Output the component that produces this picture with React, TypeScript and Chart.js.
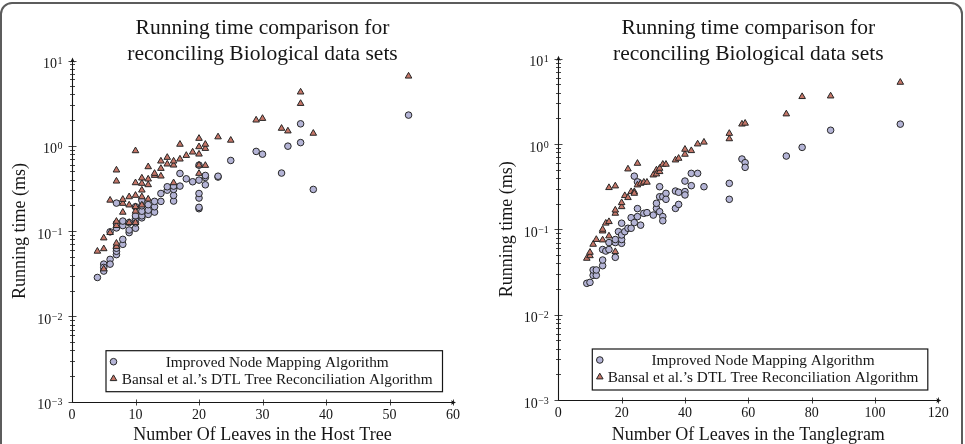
import React, { useEffect, useRef } from "react";
import { Chart, registerables } from "chart.js";

Chart.register(...registerables);

const SERIF = "'Liberation Serif', 'Times New Roman', 'DejaVu Serif', serif";
const INK = "#161616";
const CIRCLE_FILL = "rgb(180, 180, 214)";
const TRIANGLE_FILL = "rgb(198, 118, 104)";

const titleLines = ["Running time comparison for", "reconciling Biological data sets"];
const yAxisTitle = "Running time (ms)";
const legendLabels = [
  "Improved Node Mapping Algorithm",
  "Bansal et al.\u2019s DTL Tree Reconciliation Algorithm",
];
const yExponents = [-3, -2, -1, 0, 1];

// Host tree panel
const hostTitle = "Number Of Leaves in the Host Tree";
const hostTicks = [0, 10, 20, 30, 40, 50, 60];
const hostImprovedX = [4, 5, 5, 5, 6, 6, 6, 7, 7, 7, 7, 7, 7, 8, 8, 8, 8, 9, 9, 9, 10, 10, 10, 10, 10, 11, 11, 11, 11, 11, 12, 12, 12, 13, 13, 13, 14, 14, 15, 15, 16, 16, 16, 16, 17, 17, 18, 19, 20, 20, 20, 20, 20, 20, 21, 21, 21, 23, 23, 25, 29, 30, 33, 34, 36, 36, 38, 53];
const hostImprovedY = [0.0286, 0.041, 0.0375, 0.034, 0.0466, 0.041, 0.098, 0.053, 0.058, 0.063, 0.109, 0.123, 0.213, 0.07, 0.08, 0.116, 0.131, 0.096, 0.103, 0.126, 0.108, 0.125, 0.141, 0.151, 0.193, 0.143, 0.151, 0.171, 0.198, 0.23, 0.157, 0.176, 0.204, 0.167, 0.193, 0.223, 0.223, 0.276, 0.302, 0.331, 0.225, 0.262, 0.308, 0.337, 0.337, 0.474, 0.41, 0.379, 0.183, 0.19, 0.244, 0.276, 0.396, 0.593, 0.349, 0.426, 0.449, 0.43, 0.44, 0.673, 0.859, 0.798, 0.479, 0.99, 1.09, 1.81, 0.308, 2.29];
const hostBansalX = [4, 5, 5, 5, 6, 6, 7, 7, 7, 7, 7, 7, 8, 8, 8, 9, 9, 9, 10, 10, 10, 10, 10, 10, 11, 11, 11, 11, 11, 12, 12, 12, 12, 13, 13, 14, 14, 14, 15, 15, 16, 16, 16, 17, 17, 18, 19, 20, 20, 20, 20, 20, 21, 21, 21, 23, 25, 29, 30, 33, 34, 36, 36, 38, 53];
const hostBansalY = [0.058, 0.036, 0.062, 0.083, 0.096, 0.23, 0.066, 0.072, 0.116, 0.13, 0.385, 0.519, 0.166, 0.211, 0.235, 0.126, 0.202, 0.252, 0.126, 0.171, 0.193, 0.262, 0.368, 0.873, 0.202, 0.252, 0.302, 0.362, 0.418, 0.237, 0.349, 0.407, 0.567, 0.449, 0.474, 0.441, 0.542, 0.661, 0.61, 0.73, 0.368, 0.593, 0.661, 0.698, 1.04, 0.77, 0.843, 0.474, 0.593, 0.798, 0.973, 1.22, 0.588, 0.93, 1.04, 1.27, 1.16, 2.0, 2.09, 1.6, 1.49, 3.13, 4.26, 1.4, 6.55];

// Tanglegram panel
const tangleTitle = "Number Of Leaves in the Tanglegram";
const tangleTicks = [0, 20, 40, 60, 80, 100, 120];
const tangleImprovedX = [9, 10, 11, 11, 12, 12, 14, 14, 14, 15, 16, 16, 18, 18, 18, 19, 20, 20, 20, 20, 21, 22, 23, 23, 24, 24, 25, 25, 25, 26, 27, 28, 30, 31, 31, 32, 32, 32, 33, 33, 33, 34, 34, 37, 37, 38, 38, 40, 40, 40, 42, 42, 44, 46, 54, 54, 58, 59, 59, 72, 77, 86, 108];
const tangleImprovedY = [0.0233, 0.0239, 0.0289, 0.0334, 0.0289, 0.0334, 0.0375, 0.0437, 0.058, 0.0557, 0.058, 0.07, 0.047, 0.07, 0.076, 0.094, 0.0686, 0.076, 0.086, 0.118, 0.094, 0.103, 0.103, 0.137, 0.12, 0.42, 0.141, 0.175, 0.36, 0.112, 0.154, 0.157, 0.147, 0.176, 0.202, 0.161, 0.241, 0.316, 0.241, 0.141, 0.126, 0.264, 0.225, 0.176, 0.281, 0.196, 0.272, 0.368, 0.277, 0.253, 0.325, 0.453, 0.453, 0.316, 0.346, 0.225, 0.667, 0.604, 0.533, 0.723, 0.914, 1.45, 1.71];
const tangleBansalX = [9, 10, 10, 11, 12, 14, 14, 14, 15, 16, 16, 16, 18, 18, 18, 18, 20, 20, 21, 22, 22, 23, 24, 24, 25, 25, 26, 27, 28, 30, 31, 31, 32, 32, 33, 34, 37, 38, 40, 40, 42, 44, 46, 54, 54, 58, 59, 72, 77, 86, 108];
const tangleBansalY = [0.0457, 0.049, 0.0537, 0.0667, 0.076, 0.075, 0.0955, 0.1, 0.118, 0.123, 0.0835, 0.308, 0.322, 0.0547, 0.154, 0.168, 0.184, 0.205, 0.248, 0.235, 0.509, 0.276, 0.276, 0.264, 0.593, 0.331, 0.346, 0.356, 0.356, 0.433, 0.496, 0.445, 0.474, 0.519, 0.578, 0.578, 0.649, 0.679, 0.757, 0.866, 0.835, 1.0, 1.05, 1.33, 1.15, 1.71, 1.75, 2.25, 3.59, 3.65, 5.28];

const toPoints = (xs: number[], ys: number[]) => xs.map((x, i) => ({ x, y: ys[i] }));

function markerPath(ctx: CanvasRenderingContext2D, style: string, x: number, y: number, r: number) {
  ctx.beginPath();
  if (style === "triangle") {
    for (let k = 0; k < 3; k++) {
      const ang = -Math.PI / 2 + (k * 2 * Math.PI) / 3;
      const px = x + r * Math.cos(ang);
      const py = y + r * Math.sin(ang);
      if (k === 0) ctx.moveTo(px, py);
      else ctx.lineTo(px, py);
    }
    ctx.closePath();
  } else {
    ctx.arc(x, y, r, 0, Math.PI * 2);
  }
}

const pgfAxesPlugin = {
  id: "pgfAxes",
  beforeDatasetsDraw(chart: any, _args: any, opts: any) {
    const { ctx, chartArea: a } = chart;
    const xs = chart.scales.x;
    const ys = chart.scales.y;
    const ax = Math.round(a.left) + 0.5;
    const ay = Math.round(a.bottom) + 0.5;
    const seg = (x1: number, y1: number, x2: number, y2: number) => {
      ctx.beginPath();
      ctx.moveTo(x1, y1);
      ctx.lineTo(x2, y2);
      ctx.stroke();
    };
    ctx.save();
    ctx.strokeStyle = INK;
    ctx.fillStyle = INK;

    // logarithmic ticks, major at each decade and minor in between
    ctx.lineWidth = 0.8;
    const eMin = yExponents[0];
    const eMax = yExponents[yExponents.length - 1];
    for (let e = eMin; e <= eMax; e++) {
      for (let m = 1; m <= 9; m++) {
        if (e === eMax && m > 1) break;
        const py = Math.round(ys.getPixelForValue(m * Math.pow(10, e))) + 0.5;
        const len = m === 1 ? 4 : 2.5;
        seg(ax - len, py, ax + len, py);
      }
    }
    for (const t of xs.ticks) {
      if (t.value === 0) continue;
      const px = Math.round(xs.getPixelForValue(t.value)) + 0.5;
      seg(px, ay - 3, px, ay + 3);
    }

    // axis lines with arrow tips
    ctx.lineWidth = 1.1;
    const topTip = a.top - 3;
    const rightTip = a.right + 3;
    seg(ax, ay, ax, topTip + 2);
    seg(ax, ay, rightTip - 2, ay);
    ctx.beginPath();
    ctx.moveTo(ax, topTip);
    ctx.lineTo(ax - 2.2, topTip + 5);
    ctx.lineTo(ax, topTip + 4);
    ctx.lineTo(ax + 2.2, topTip + 5);
    ctx.closePath();
    ctx.fill();
    ctx.beginPath();
    ctx.moveTo(rightTip, ay);
    ctx.lineTo(rightTip - 5, ay - 2.2);
    ctx.lineTo(rightTip - 4, ay);
    ctx.lineTo(rightTip - 5, ay + 2.2);
    ctx.closePath();
    ctx.fill();

    // decade labels with superscript exponents
    const labelRight = a.left - 9.5;
    ctx.textAlign = "left";
    ctx.textBaseline = "alphabetic";
    for (const e of yExponents) {
      const py = ys.getPixelForValue(Math.pow(10, e));
      const expText = e < 0 ? "\u2212" + Math.abs(e) : String(e);
      ctx.font = `10px ${SERIF}`;
      const expW = ctx.measureText(expText).width;
      ctx.font = `14px ${SERIF}`;
      const baseW = ctx.measureText("10").width;
      const bx = labelRight - expW - baseW - 0.5;
      ctx.fillText("10", bx, py + 7.5);
      ctx.font = `10px ${SERIF}`;
      ctx.fillText(expText, bx + baseW + 0.5, py + 3.5);
    }

    // titles
    const cx = (a.left + a.right) / 2;
    ctx.textAlign = "center";
    ctx.font = `21.5px ${SERIF}`;
    ctx.fillText(titleLines[0], cx, 33.5);
    ctx.fillText(titleLines[1], cx, 59.5);
    ctx.font = `18px ${SERIF}`;
    ctx.fillText(opts.xTitle, cx, chart.height - 4);
    ctx.save();
    ctx.translate(a.left - 51.5, (a.top + a.bottom) / 2);
    ctx.rotate(-Math.PI / 2);
    ctx.textBaseline = "middle";
    ctx.fillText(yAxisTitle, 0, 0);
    ctx.restore();
    ctx.restore();
  },
  afterDatasetsDraw(chart: any) {
    const { ctx, chartArea: a } = chart;
    const left = a.left + 34;
    const right = a.right - 10.5;
    const top = a.bottom - 51;
    const bottom = a.bottom - 10;
    ctx.save();
    ctx.fillStyle = "#ffffff";
    ctx.fillRect(left, top, right - left, bottom - top);
    ctx.strokeStyle = INK;
    ctx.lineWidth = 1.2;
    ctx.strokeRect(left, top, right - left, bottom - top);
    const textX = (left + right) / 2 + 3;
    chart.data.datasets.forEach((ds: any, i: number) => {
      const rowY = top + 11 + i * 17;
      markerPath(ctx, ds.pointStyle, left + 7.5, rowY, ds.pointRadius);
      ctx.fillStyle = ds.backgroundColor;
      ctx.fill();
      ctx.lineWidth = ds.borderWidth;
      ctx.strokeStyle = ds.borderColor;
      ctx.stroke();
      ctx.fillStyle = INK;
      ctx.font = `15.3px ${SERIF}`;
      ctx.textAlign = "center";
      ctx.textBaseline = "middle";
      ctx.fillText(ds.label, textX, rowY + 1);
    });
    ctx.restore();
  },
};

type PanelProps = {
  width: number;
  xTitle: string;
  xTicks: number[];
  improvedX: number[];
  improvedY: number[];
  bansalX: number[];
  bansalY: number[];
  pad: { left: number; right: number; top: number };
  axisHeight: number;
};

function ScatterPanel(props: PanelProps) {
  const ref = useRef<HTMLCanvasElement | null>(null);
  useEffect(() => {
    if (!ref.current) return;
    const step = props.xTicks[1] - props.xTicks[0];
    const chart = new Chart(ref.current, {
      type: "scatter",
      data: {
        datasets: [
          {
            label: legendLabels[0],
            data: toPoints(props.improvedX, props.improvedY),
            pointStyle: "circle",
            pointRadius: 3.3,
            backgroundColor: CIRCLE_FILL,
            borderColor: "#262626",
            borderWidth: 1,
            order: 2,
          },
          {
            label: legendLabels[1],
            data: toPoints(props.bansalX, props.bansalY),
            pointStyle: "triangle",
            pointRadius: 3.8,
            backgroundColor: TRIANGLE_FILL,
            borderColor: "#262626",
            borderWidth: 1,
            order: 1,
          },
        ],
      },
      options: {
        responsive: false,
        animation: false,
        devicePixelRatio: 1,
        events: [],
        layout: { padding: { left: props.pad.left, right: props.pad.right, top: props.pad.top, bottom: 0 } },
        plugins: {
          legend: { display: false },
          tooltip: { enabled: false },
          title: { display: false },
          pgfAxes: { xTitle: props.xTitle },
        } as any,
        scales: {
          x: {
            type: "linear",
            position: "bottom",
            min: props.xTicks[0],
            max: props.xTicks[props.xTicks.length - 1],
            afterFit: (s: any) => {
              s.height = props.axisHeight;
            },
            grid: { display: false, drawTicks: false },
            border: { display: false },
            ticks: {
              stepSize: step,
              autoSkip: false,
              maxRotation: 0,
              padding: 5,
              color: INK,
              font: { family: SERIF, size: 14 },
            },
          },
          y: {
            type: "logarithmic",
            min: Math.pow(10, yExponents[0]),
            max: Math.pow(10, yExponents[yExponents.length - 1]),
            display: false,
          },
        },
      },
      plugins: [pgfAxesPlugin],
    } as any);
    return () => chart.destroy();
  }, []);
  return <canvas ref={ref} width={props.width} height={444} style={{ display: "block", width: props.width, height: 444 }} />;
}

export default function App() {
  return (
    <div style={{ position: "fixed", left: 0, top: 0, width: 965, height: 444, background: "#fff", overflow: "hidden" }}>
      <div style={{ position: "absolute", left: 0, top: 0 }}>
        <ScatterPanel
          width={482}
          xTitle={hostTitle}
          xTicks={hostTicks}
          improvedX={hostImprovedX}
          improvedY={hostImprovedY}
          bansalX={hostBansalX}
          bansalY={hostBansalY}
          pad={{ left: 72, right: 29, top: 60.5 }}
          axisHeight={42.3}
        />
      </div>
      <div style={{ position: "absolute", left: 482, top: 0 }}>
        <ScatterPanel
          width={483}
          xTitle={tangleTitle}
          xTicks={tangleTicks}
          improvedX={tangleImprovedX}
          improvedY={tangleImprovedY}
          bansalX={tangleBansalX}
          bansalY={tangleBansalY}
          pad={{ left: 76.3, right: 26.7, top: 58.7 }}
          axisHeight={44}
        />
      </div>
      <div
        style={{
          position: "absolute",
          left: 0,
          top: 2,
          width: 963,
          height: 480,
          boxSizing: "border-box",
          border: "2px solid #5c5c5c",
          borderRadius: 12,
          pointerEvents: "none",
        }}
      />
    </div>
  );
}
